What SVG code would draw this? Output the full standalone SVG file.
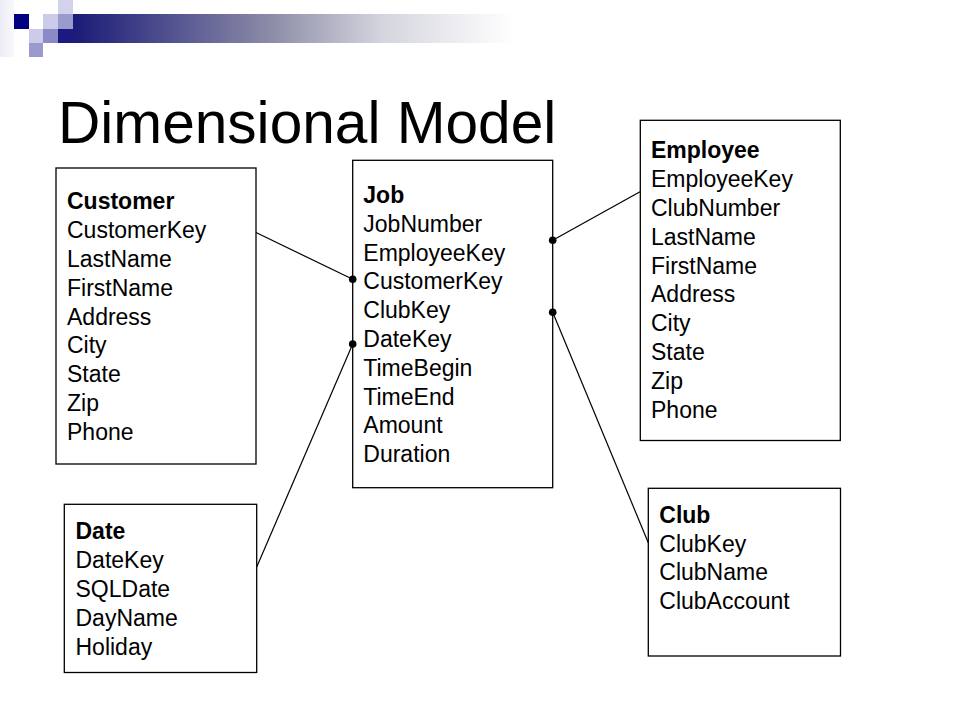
<svg xmlns="http://www.w3.org/2000/svg" width="960" height="720" viewBox="0 0 960 720">
<defs>
<linearGradient id="bar" x1="0" y1="0" x2="1" y2="0">
<stop offset="0" stop-color="#1a1a78"/>
<stop offset="0.45" stop-color="#8c8ca8"/>
<stop offset="0.7" stop-color="#d4d4de"/>
<stop offset="1" stop-color="#ffffff"/>
</linearGradient>
<linearGradient id="strip" x1="0" y1="0" x2="1" y2="0">
<stop offset="0" stop-color="#ececf6"/>
<stop offset="1" stop-color="#f8f8fc"/>
</linearGradient>
<style>
.box{fill:#ffffff;stroke:#000000;stroke-width:1.3}
.t{font-family:"Liberation Sans",Arial,sans-serif;font-size:23px;fill:#000000}
.h{font-weight:bold}
.c{stroke:#000000;stroke-width:1.2;fill:none}
.dot{fill:#000000}
</style>
</defs>
<rect width="960" height="720" fill="#ffffff"/>
<g id="decor">
<rect x="0" y="0" width="14" height="57" fill="url(#strip)"/>
<rect x="73" y="14" width="440" height="29" fill="url(#bar)"/>
<rect x="14" y="14" width="15" height="15" fill="#000080"/>
<rect x="43" y="14" width="15" height="15" fill="#ccccea"/>
<rect x="58" y="0" width="15" height="14" fill="#d2d2ec"/>
<rect x="58" y="14" width="15" height="15" fill="#9a9acc"/>
<rect x="29" y="29" width="14" height="14" fill="#ccccea"/>
<rect x="43" y="29" width="15" height="14" fill="#8a8ac4"/>
<rect x="58" y="29" width="15" height="14" fill="#1a1a80"/>
<rect x="29" y="43" width="14" height="14" fill="#9a9acc"/>
</g>
<text x="58" y="143" font-family="Liberation Sans, Arial, sans-serif" font-size="58.6">Dimensional Model</text>
<g id="connectors">
<line class="c" x1="256" y1="232.5" x2="352.7" y2="279.3"/>
<line class="c" x1="552.7" y1="240.3" x2="640" y2="191.7"/>
<line class="c" x1="352.7" y1="344" x2="256.7" y2="567"/>
<line class="c" x1="552.7" y1="312.3" x2="648.3" y2="542.7"/>
</g>
<g id="customer">
<rect class="box" x="56" y="168" width="200" height="296"/>
<text class="t" x="67" y="209.3"><tspan class="h">Customer</tspan><tspan x="67" dy="28.8">CustomerKey</tspan><tspan x="67" dy="28.8">LastName</tspan><tspan x="67" dy="28.8">FirstName</tspan><tspan x="67" dy="28.8">Address</tspan><tspan x="67" dy="28.8">City</tspan><tspan x="67" dy="28.8">State</tspan><tspan x="67" dy="28.8">Zip</tspan><tspan x="67" dy="28.8">Phone</tspan></text>
</g>
<g id="job">
<rect class="box" x="352.7" y="160.3" width="200" height="327.4"/>
<text class="t" x="363.3" y="203"><tspan class="h">Job</tspan><tspan x="363.3" dy="28.8">JobNumber</tspan><tspan x="363.3" dy="28.8">EmployeeKey</tspan><tspan x="363.3" dy="28.8">CustomerKey</tspan><tspan x="363.3" dy="28.8">ClubKey</tspan><tspan x="363.3" dy="28.8">DateKey</tspan><tspan x="363.3" dy="28.8">TimeBegin</tspan><tspan x="363.3" dy="28.8">TimeEnd</tspan><tspan x="363.3" dy="28.8">Amount</tspan><tspan x="363.3" dy="28.8">Duration</tspan></text>
</g>
<g id="employee">
<rect class="box" x="640.3" y="120.3" width="200" height="320.2"/>
<text class="t" x="651" y="158.3"><tspan class="h">Employee</tspan><tspan x="651" dy="28.8">EmployeeKey</tspan><tspan x="651" dy="28.8">ClubNumber</tspan><tspan x="651" dy="28.8">LastName</tspan><tspan x="651" dy="28.8">FirstName</tspan><tspan x="651" dy="28.8">Address</tspan><tspan x="651" dy="28.8">City</tspan><tspan x="651" dy="28.8">State</tspan><tspan x="651" dy="28.8">Zip</tspan><tspan x="651" dy="28.8">Phone</tspan></text>
</g>
<g id="date">
<rect class="box" x="64.3" y="504.3" width="192.4" height="168.2"/>
<text class="t" x="75.5" y="539.3"><tspan class="h">Date</tspan><tspan x="75.5" dy="28.8">DateKey</tspan><tspan x="75.5" dy="28.8">SQLDate</tspan><tspan x="75.5" dy="28.8">DayName</tspan><tspan x="75.5" dy="28.8">Holiday</tspan></text>
</g>
<g id="club">
<rect class="box" x="648.3" y="488.3" width="192.2" height="167.7"/>
<text class="t" x="659.3" y="522.7"><tspan class="h">Club</tspan><tspan x="659.3" dy="28.8">ClubKey</tspan><tspan x="659.3" dy="28.8">ClubName</tspan><tspan x="659.3" dy="28.8">ClubAccount</tspan></text>
</g>
<g id="dots">
<circle class="dot" cx="352.7" cy="279.3" r="3.8"/>
<circle class="dot" cx="352.7" cy="344" r="3.8"/>
<circle class="dot" cx="552.7" cy="240.3" r="3.8"/>
<circle class="dot" cx="552.7" cy="312.3" r="3.8"/>
</g>
</svg>
